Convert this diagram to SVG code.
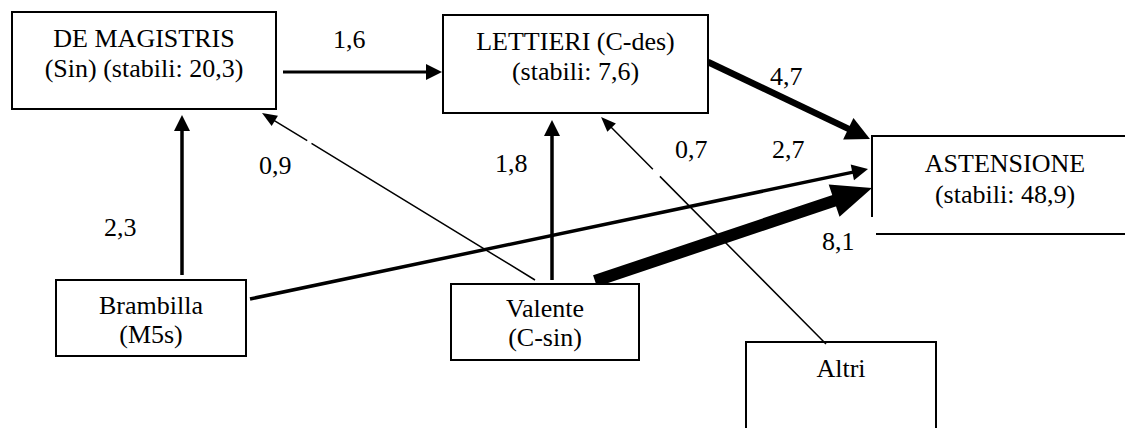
<svg xmlns="http://www.w3.org/2000/svg" width="1125" height="428" viewBox="0 0 1125 428">
  <style>
    .box { fill: #fff; stroke: #000; stroke-width: 2; }
    .edge { fill: none; stroke: #000; stroke-width: 2; }
    .t { font-family: "Liberation Serif", "Times New Roman", Times, Tinos, "Nimbus Roman", "Noto Serif", "DejaVu Serif", FreeSerif, serif; font-size: 26px; fill: #000; }
    .c { text-anchor: middle; }
    .flow { fill: none; stroke: #000; }
  </style>
  <defs>
    <!-- arrowheads: base slightly behind the line end, tip ahead of it -->
    <marker id="headS" markerUnits="userSpaceOnUse" markerWidth="40" markerHeight="40" viewBox="-5 -20 40 40" refX="0" refY="0" orient="auto" overflow="visible">
      <path d="M-2,-6 L13,0 L-2,6 Z" fill="#000"/>
    </marker>
    <marker id="headM" markerUnits="userSpaceOnUse" markerWidth="40" markerHeight="40" viewBox="-5 -20 40 40" refX="0" refY="0" orient="auto" overflow="visible">
      <path d="M-2,-8 L14,0 L-2,8 Z" fill="#000"/>
    </marker>
    <marker id="headL" markerUnits="userSpaceOnUse" markerWidth="40" markerHeight="40" viewBox="-5 -20 40 40" refX="0" refY="0" orient="auto" overflow="visible">
      <path d="M-2,-12 L22,0 L-2,12 Z" fill="#000"/>
    </marker>
    <marker id="headXL" markerUnits="userSpaceOnUse" markerWidth="60" markerHeight="60" viewBox="-5 -30 60 60" refX="0" refY="0" orient="auto" overflow="visible">
      <path d="M-2,-17 L38,0 L-2,17 Z" fill="#000"/>
    </marker>
  </defs>

  <g id="connectors">
    <!-- De Magistris -> Lettieri -->
    <line class="flow" x1="283" y1="72" x2="428" y2="72" stroke-width="3" marker-end="url(#headM)"/>
    <!-- Brambilla -> De Magistris -->
    <line class="flow" x1="182" y1="275" x2="182" y2="129" stroke-width="3.5" marker-end="url(#headM)"/>
    <!-- Valente -> Lettieri -->
    <line class="flow" x1="552" y1="280" x2="552" y2="134" stroke-width="3.5" marker-end="url(#headM)"/>
    <!-- Valente -> De Magistris -->
    <line class="flow" x1="535" y1="280" x2="273.1" y2="119.8" stroke-width="1.5" stroke-dasharray="262 5 1000" marker-end="url(#headS)"/>
    <!-- Altri -> Lettieri -->
    <line class="flow" x1="826" y1="344" x2="610.2" y2="126.2" stroke-width="1.5" stroke-dasharray="236 10 1000" marker-end="url(#headS)"/>
    <!-- Lettieri -> Astensione -->
    <line class="flow" x1="708" y1="62" x2="850.1" y2="129.6" stroke-width="6.5" marker-end="url(#headL)"/>
    <!-- Brambilla -> Astensione -->
    <line class="flow" x1="250" y1="299" x2="854.3" y2="171.9" stroke-width="3.5" marker-end="url(#headM)"/>
    <!-- Valente -> Astensione -->
    <line class="flow" x1="595" y1="281" x2="836" y2="200.1" stroke-width="12" marker-end="url(#headXL)"/>
  </g>

  <g id="labels" class="t">
    <text x="333" y="48">1,6</text>
    <text x="770" y="85">4,7</text>
    <text x="259" y="174">0,9</text>
    <text x="495" y="172">1,8</text>
    <text x="675" y="158">0,7</text>
    <text x="772" y="158">2,7</text>
    <text x="104" y="236">2,3</text>
    <text x="822" y="250">8,1</text>
  </g>

  <g id="node-demagistris" class="t">
    <rect class="box" x="12" y="12" width="264" height="97"/>
    <text class="c" x="144" y="47">DE MAGISTRIS</text>
    <text class="c" x="144" y="77">(Sin) (stabili: 20,3)</text>
  </g>

  <g id="node-lettieri" class="t">
    <rect class="box" x="443" y="15" width="265" height="98"/>
    <text class="c" x="575.5" y="50">LETTIERI (C-des)</text>
    <text class="c" x="575.5" y="80">(stabili: 7,6)</text>
  </g>

  <g id="node-astensione" class="t">
    <path class="edge" d="M872,217 L872,136 L1126,136"/>
    <path class="edge" d="M876,234 L1126,234"/>
    <text class="c" x="1005" y="172">ASTENSIONE</text>
    <text class="c" x="1005" y="203">(stabili: 48,9)</text>
  </g>

  <g id="node-brambilla" class="t">
    <rect class="box" x="56" y="280" width="190" height="76"/>
    <text class="c" x="151" y="314">Brambilla</text>
    <text class="c" x="151" y="343">(M5s)</text>
  </g>

  <g id="node-valente" class="t">
    <rect class="box" x="451" y="284" width="188" height="76"/>
    <text class="c" x="545" y="317">Valente</text>
    <text class="c" x="545" y="346">(C-sin)</text>
  </g>

  <g id="node-altri" class="t">
    <path class="edge" d="M746,430 L746,342 L936,342 L936,430"/>
    <text class="c" x="841" y="377">Altri</text>
  </g>
</svg>
